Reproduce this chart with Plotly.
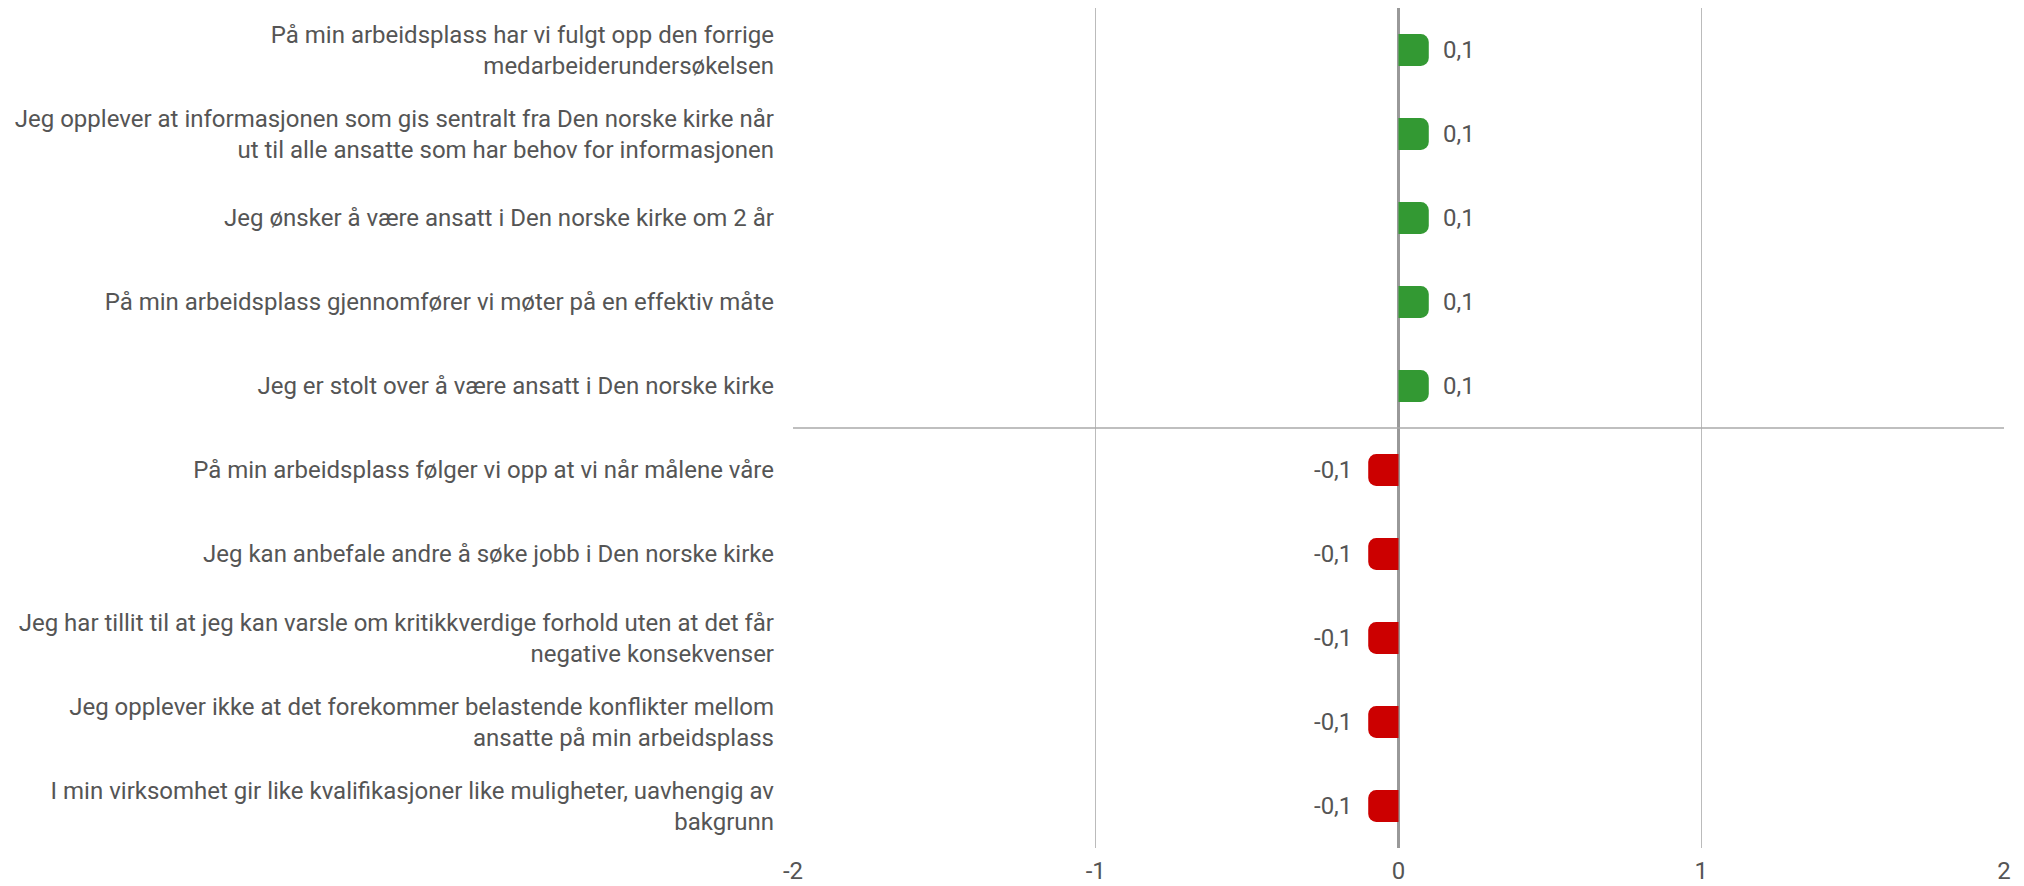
import plotly.graph_objects as go

categories = [
    "På min arbeidsplass har vi fulgt opp den forrige<br>medarbeiderundersøkelsen",
    "Jeg opplever at informasjonen som gis sentralt fra Den norske kirke når<br>ut til alle ansatte som har behov for informasjonen",
    "Jeg ønsker å være ansatt i Den norske kirke om 2 år",
    "På min arbeidsplass gjennomfører vi møter på en effektiv måte",
    "Jeg er stolt over å være ansatt i Den norske kirke",
    "På min arbeidsplass følger vi opp at vi når målene våre",
    "Jeg kan anbefale andre å søke jobb i Den norske kirke",
    "Jeg har tillit til at jeg kan varsle om kritikkverdige forhold uten at det får<br>negative konsekvenser",
    "Jeg opplever ikke at det forekommer belastende konflikter mellom<br>ansatte på min arbeidsplass",
    "I min virksomhet gir like kvalifikasjoner like muligheter, uavhengig av<br>bakgrunn",
]
values = [0.1, 0.1, 0.1, 0.1, 0.1, -0.1, -0.1, -0.1, -0.1, -0.1]
value_labels = ["0,1", "0,1", "0,1", "0,1", "0,1", "-0,1", "-0,1", "-0,1", "-0,1", "-0,1"]
x_ticks = [-2, -1, 0, 1, 2]

GREEN = "#339933"
RED = "#cc0000"
TEXT = "#555555"
FS = 24

colors = [GREEN if v >= 0 else RED for v in values]

fig = go.Figure()
fig.add_trace(go.Bar(
    x=values,
    y=categories,
    orientation="h",
    marker=dict(color=colors, line=dict(width=0)),
    width=0.38,
    hoverinfo="skip",
))

for cat, v, lab in zip(categories, values, value_labels):
    fig.add_annotation(
        x=v, y=cat, text=lab, showarrow=False,
        xanchor="left" if v >= 0 else "right",
        xshift=12 if v >= 0 else -14,
        font=dict(family="Roboto", size=FS, color=TEXT),
    )

# separator between positive and negative groups
fig.add_shape(
    type="line", xref="x", yref="y",
    x0=x_ticks[0], x1=x_ticks[-1], y0=4.5, y1=4.5,
    line=dict(color="#aaaaaa", width=1.5),
)

fig.update_layout(
    width=2016, height=878,
    margin=dict(l=785, r=20, t=0, b=38),
    paper_bgcolor="white", plot_bgcolor="white",
    showlegend=False,
    barcornerradius=8,
    font=dict(family="Roboto", size=FS, color=TEXT),
)
fig.update_xaxes(
    range=[-2, 2], tickvals=x_ticks, ticktext=[str(t) for t in x_ticks],
    showgrid=True, gridcolor="#bbbbbb", gridwidth=1,
    zeroline=True, zerolinecolor="#999999", zerolinewidth=2.5,
    showline=False, ticks="", ticklabelstandoff=6,
    tickfont=dict(size=FS, color=TEXT),
    automargin=False,
)
fig.update_yaxes(
    autorange="reversed", showgrid=False, zeroline=False, showline=False,
    ticks="", ticklabelstandoff=18, tickfont=dict(size=FS, color=TEXT),
    automargin=False,
)

fig.write_html("out.html")
